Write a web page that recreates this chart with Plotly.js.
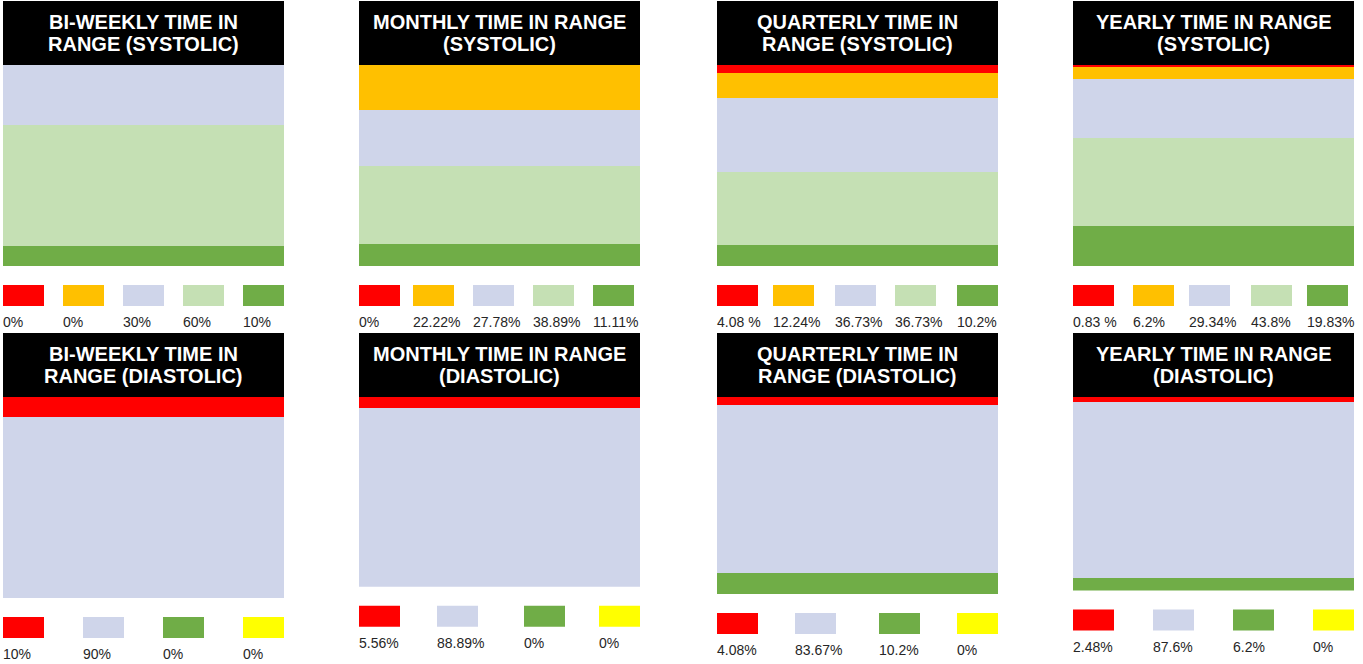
<!DOCTYPE html>
<html>
<head>
<meta charset="utf-8">
<script src="https://cdn.plot.ly/plotly-3.0.1.min.js"></script>
<style>html,body{margin:0;padding:0;background:#fff;}#chart{width:1363px;height:664px;}</style>
</head>
<body>
<div id="chart"></div>
<script>
// ---------------- DATA ----------------
const systolicTitles = [
  ["BI-WEEKLY TIME IN", "RANGE (SYSTOLIC)"],
  ["MONTHLY TIME IN RANGE", "(SYSTOLIC)"],
  ["QUARTERLY TIME IN", "RANGE (SYSTOLIC)"],
  ["YEARLY TIME IN RANGE", "(SYSTOLIC)"]
];
const diastolicTitles = [
  ["BI-WEEKLY TIME IN", "RANGE (DIASTOLIC)"],
  ["MONTHLY TIME IN RANGE", "(DIASTOLIC)"],
  ["QUARTERLY TIME IN", "RANGE (DIASTOLIC)"],
  ["YEARLY TIME IN RANGE", "(DIASTOLIC)"]
];
const systolicBands = ["Band A (red)", "Band B (orange)", "Band C (lavender)", "Band D (light green)", "Band E (green)"];
const diastolicBands = ["Band A (red)", "Band B (lavender)", "Band C (green)", "Band D (yellow)"];

const systolicBiWeekly  = [0, 0, 30, 60, 10];
const systolicMonthly   = [0, 22.22, 27.78, 38.89, 11.11];
const systolicQuarterly = [4.08, 12.24, 36.73, 36.73, 10.2];
const systolicYearly    = [0.83, 6.2, 29.34, 43.8, 19.83];

const diastolicBiWeekly  = [10, 90, 0, 0];
const diastolicMonthly   = [5.56, 88.89, 0, 0];
const diastolicQuarterly = [4.08, 83.67, 10.2, 0];
const diastolicYearly    = [2.48, 87.6, 6.2, 0];

const systolicLabels = [
  ["0%", "0%", "30%", "60%", "10%"],
  ["0%", "22.22%", "27.78%", "38.89%", "11.11%"],
  ["4.08 %", "12.24%", "36.73%", "36.73%", "10.2%"],
  ["0.83 %", "6.2%", "29.34%", "43.8%", "19.83%"]
];
const diastolicLabels = [
  ["10%", "90%", "0%", "0%"],
  ["5.56%", "88.89%", "0%", "0%"],
  ["4.08%", "83.67%", "10.2%", "0%"],
  ["2.48%", "87.6%", "6.2%", "0%"]
];

// ---------------- STYLE / LAYOUT ----------------
const systolicColors = ["#FF0000", "#FFC000", "#CFD5EA", "#C5E0B4", "#70AD47"];
const diastolicColors = ["#FF0000", "#CFD5EA", "#70AD47", "#FFFF00"];

const W = 1363, H = 664;
const panelX = [[3, 284], [359, 640], [717, 998], [1073, 1354]];
const headerTop = [1, 333];
const headerH = 64;
const barFullH = 201;
const swW = 41, swH = 21;
const swatchLeft = [
  [[3, 63, 123, 183, 243], [359, 413, 473, 533, 593], [717, 773, 835, 895, 957], [1073, 1133, 1189, 1251, 1307]],
  [[3, 83, 163, 243], [359, 437, 524, 599], [717, 795, 879, 957], [1073, 1153, 1233, 1313]]
];
const FONT = "Liberation Sans, Arial, sans-serif";

const px = x => x / W;
const py = y => 1 - y / H;

const panels = [
  {row: 0, col: 0, values: systolicBiWeekly, labels: systolicLabels[0], names: systolicBands, colors: systolicColors, title: systolicTitles[0]},
  {row: 0, col: 1, values: systolicMonthly, labels: systolicLabels[1], names: systolicBands, colors: systolicColors, title: systolicTitles[1]},
  {row: 0, col: 2, values: systolicQuarterly, labels: systolicLabels[2], names: systolicBands, colors: systolicColors, title: systolicTitles[2]},
  {row: 0, col: 3, values: systolicYearly, labels: systolicLabels[3], names: systolicBands, colors: systolicColors, title: systolicTitles[3]},
  {row: 1, col: 0, values: diastolicBiWeekly, labels: diastolicLabels[0], names: diastolicBands, colors: diastolicColors, title: diastolicTitles[0]},
  {row: 1, col: 1, values: diastolicMonthly, labels: diastolicLabels[1], names: diastolicBands, colors: diastolicColors, title: diastolicTitles[1]},
  {row: 1, col: 2, values: diastolicQuarterly, labels: diastolicLabels[2], names: diastolicBands, colors: diastolicColors, title: diastolicTitles[2]},
  {row: 1, col: 3, values: diastolicYearly, labels: diastolicLabels[3], names: diastolicBands, colors: diastolicColors, title: diastolicTitles[3]}
];

const traces = [];
const layout = {
  width: W, height: H,
  margin: {l: 0, r: 0, t: 0, b: 0, pad: 0},
  paper_bgcolor: "#ffffff", plot_bgcolor: "rgba(0,0,0,0)",
  barmode: "stack", bargap: 0, showlegend: false,
  shapes: [], annotations: []
};

panels.forEach((p, i) => {
  const n = i + 1;
  const xa = n === 1 ? "x" : "x" + n;
  const ya = n === 1 ? "y" : "y" + n;
  const total = p.values.reduce((a, b) => a + b, 0);
  const [x0, x1] = panelX[p.col];
  const hTop = headerTop[p.row];
  const barTop = hTop + headerH;
  const barBottom = barTop + barFullH * total / 100;

  // stacked bar: bottom band first
  for (let k = p.values.length - 1; k >= 0; k--) {
    traces.push({
      type: "bar", x: [0], y: [p.values[k]], width: [1],
      name: p.names[k], xaxis: xa, yaxis: ya,
      marker: {color: p.colors[k], line: {width: 0}},
      hovertemplate: p.names[k] + ": " + p.labels[k] + "<extra></extra>"
    });
  }
  layout["xaxis" + (n === 1 ? "" : n)] = {
    domain: [px(x0), px(x1)], range: [-0.5, 0.5], visible: false, fixedrange: true,
    anchor: ya
  };
  layout["yaxis" + (n === 1 ? "" : n)] = {
    domain: [py(barBottom), py(barTop)], range: [0, total], visible: false, fixedrange: true,
    anchor: xa
  };

  // header
  layout.shapes.push({
    type: "rect", xref: "paper", yref: "paper",
    x0: px(x0), x1: px(x1), y0: py(hTop + headerH), y1: py(hTop),
    fillcolor: "#000000", line: {width: 0}, layer: "above"
  });
  p.title.forEach((line, li) => {
    layout.annotations.push({
      xref: "paper", yref: "paper", x: px((x0 + x1) / 2), y: py(hTop + 21 + li * 22.4),
      xanchor: "center", yanchor: "middle", showarrow: false, text: line,
      font: {family: FONT, size: 20, color: "#ffffff", weight: 700},
      borderpad: 0, borderwidth: 0
    });
  });

  // legend swatches + labels
  const swTop = barBottom + 19;
  p.colors.forEach((c, k) => {
    const sx = swatchLeft[p.row][p.col][k];
    layout.shapes.push({
      type: "rect", xref: "paper", yref: "paper",
      x0: px(sx), x1: px(sx + swW), y0: py(swTop + swH), y1: py(swTop),
      fillcolor: c, line: {width: 0}
    });
    layout.annotations.push({
      xref: "paper", yref: "paper", x: px(sx), y: py(swTop + swH + 16),
      xanchor: "left", yanchor: "middle", showarrow: false, text: p.labels[k],
      font: {family: FONT, size: 14, color: "#262626"},
      borderpad: 0, borderwidth: 0
    });
  });
});

Plotly.newPlot("chart", traces, layout, {displayModeBar: false, staticPlot: true});
</script>
</body>
</html>
